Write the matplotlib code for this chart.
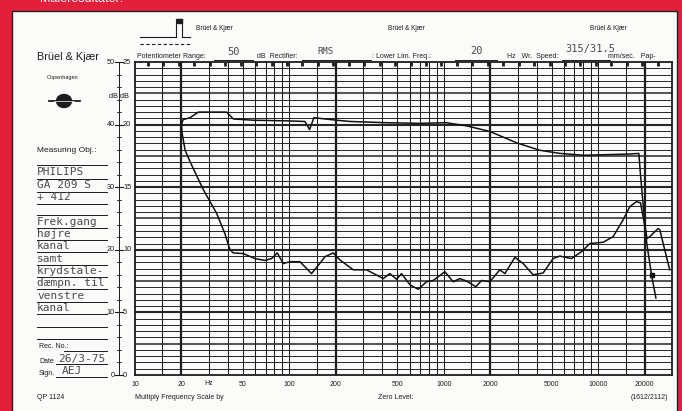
import numpy as np
import matplotlib
matplotlib.use("Agg")
import matplotlib.pyplot as plt
from matplotlib.patches import Rectangle, Ellipse
from matplotlib.lines import Line2D
from matplotlib.ticker import NullLocator

W, H = 682, 411

# upper trace: frequency response, right channel (Hz, dB on the 50 dB range)
resp_freq = [20, 20.5, 22.7, 25.7, 39.2, 43.3, 58.4, 95.9, 126, 135, 144, 202, 247,
             425, 697, 1037, 1403, 1986, 2954, 4172, 5633, 8050, 16000, 18300,
             18800, 19700, 20600, 22100, 23600]
resp_db = [40.0, 40.8, 41.1, 42.0, 42.0, 40.9, 40.7, 40.6, 40.5, 39.2, 41.1, 40.7, 40.5,
           40.3, 40.2, 40.3, 39.8, 38.9, 37.1, 35.9, 35.4, 35.1, 35.3, 35.4,
           31.7, 26.0, 21.0, 16.0, 12.3]

# lower trace: crosstalk damping to left channel
xtalk_freq = [20, 20.2, 21.1, 23.3, 27.7, 33.8, 38.2, 41.2, 43.3, 50.2, 59.8, 69.4,
              76.7, 83.4, 91.2, 100.7, 117, 139, 157, 170, 192, 212, 259, 316, 405,
              447, 494, 532, 603, 682, 773, 853, 1015, 1148, 1270, 1403, 1611, 1754,
              1986, 2303, 2483, 2883, 3262, 3785, 4393, 5097, 5633, 6712, 7786, 8809,
              10740, 12470, 14480, 16000, 17670, 18760, 20700, 21540, 24380, 25000, 29000]
xtalk_db = [40.0, 38.6, 35.9, 33.5, 29.6, 25.8, 22.6, 20.0, 19.5, 19.4, 18.6, 18.3,
            18.6, 19.5, 17.8, 18.1, 18.1, 16.2, 17.8, 18.9, 19.5, 18.4, 16.8, 16.8, 15.4,
            16.2, 15.3, 16.2, 14.4, 13.7, 14.9, 15.1, 16.5, 14.9, 15.4, 15.0, 14.1, 15.1,
            14.9, 16.8, 16.2, 18.8, 17.8, 16.0, 16.3, 18.6, 19.0, 18.6, 19.7, 21.0,
            21.2, 22.1, 24.8, 26.9, 27.7, 27.5, 21.8, 22.1, 23.4, 23.2, 16.8]

freq_ticks = [10, 20, 50, 100, 200, 500, 1000, 2000, 5000, 10000, 20000]
db_left = [0, 10, 20, 30, 40, 50]
db_right = [0, 5, 10, 15, 20, 25]

RED = "#e2203c"
INK = "#1c1c1c"
TYPE = "#4a4a4a"
MONO = "DejaVu Sans Mono"

plt.rcParams["font.family"] = ["Liberation Sans", "DejaVu Sans"]
fig = plt.figure(figsize=(W / 100, H / 100), dpi=100, facecolor=RED)


def fx(x):
    return x / W


def fy(y):
    return 1 - y / H


def ftext(x, y, s, **kw):
    kw.setdefault("color", INK)
    kw.setdefault("va", "center")
    fig.text(fx(x), fy(y), s, **kw)


def fline(x0, y0, x1, y1, **kw):
    kw.setdefault("color", INK)
    kw.setdefault("lw", 0.7)
    fig.add_artist(Line2D([fx(x0), fx(x1)], [fy(y0), fy(y1)], transform=fig.transFigure, **kw))


# paper sheet
paper = Rectangle((fx(12), fy(413)), fx(677) - fx(12), fy(11) - fy(413),
                  transform=fig.transFigure, facecolor="#fbfbf9",
                  edgecolor="#202020", lw=1.0, zorder=-5)
fig.patches.append(paper)
ftext(40, -1, "Måleresultater:", color="white", fontsize=9, ha="left")

# header
fline(140, 37, 176, 37, lw=0.8)
fline(176, 37, 176, 19, lw=0.8)
fline(176, 19, 182, 19, lw=0.8)
fline(182, 19, 182, 37, lw=0.8)
fline(182, 37, 190, 37, lw=0.8)
fig.patches.append(Rectangle((fx(176.5), fy(23)), fx(5), fy(19) - fy(23),
                             transform=fig.transFigure, color=INK))
fline(140, 44, 192, 44, lw=0.8, ls=(0, (3, 2.2)))
for bx in [214, 406, 608]:
    ftext(bx, 28, "Brüel & Kjær", fontsize=4.7, ha="center")

ftext(137, 57, "Potentiometer Range:", fontsize=5, ha="left")
fline(214, 60, 253, 60)
ftext(234, 52, "50", fontsize=7.5, ha="center", color=TYPE, family=MONO)
ftext(257, 57, "dB  Rectifier:", fontsize=5, ha="left")
fline(302, 60, 371, 60)
ftext(325, 51, "RMS", fontsize=6.5, ha="center", color=TYPE, family=MONO)
ftext(372, 57, ": Lower Lim. Freq.:", fontsize=5, ha="left")
fline(455, 60, 497, 60)
ftext(476, 51, "20", fontsize=7.5, ha="center", color=TYPE, family=MONO)
ftext(507, 57, "Hz   Wr.  Speed:", fontsize=5, ha="left")
fline(562, 60, 610, 60)
ftext(590, 49, "315/31.5", fontsize=7.5, ha="center", color=TYPE, family=MONO)
ftext(608, 57, "mm/sec.   Pap-", fontsize=5, ha="left")

# left panel
ftext(37, 57, "Brüel & Kjær", fontsize=7.8, ha="left")
ftext(63, 77, "Copenhagen", fontsize=4, ha="center")
fig.patches.append(Ellipse((fx(64), fy(101)), fx(15), fy(0) - fy(13),
                           transform=fig.transFigure, color=INK))
fline(49, 101, 80, 101, lw=1.3)
fline(54, 101, 74, 101, lw=0.5, color="white")
ftext(37, 150, "Measuring Obj.:", fontsize=6, ha="left")

typed = [(172, "PHILIPS"), (185, "GA 209 S"), (197, "+ 412"),
         (222, "Frek.gang"), (234, "højre"), (246, "kanal"), (259, "samt"),
         (271, "krydstale-"), (283, "dæmpn. til"), (296, "venstre"), (308, "kanal")]
for ty, s in typed:
    ftext(37, ty, s, fontsize=8, ha="left", color=TYPE, family=MONO)
for ry in [165, 179, 192, 204, 215, 228, 240, 252, 265, 277, 289, 302, 314, 327, 339]:
    fline(37, ry, 107, ry, lw=0.7)

ftext(39, 347, "Rec. No.:", fontsize=5, ha="left")
fline(64, 351, 107, 351)
ftext(39, 361, "Date", fontsize=5, ha="left")
ftext(58, 359, "26/3-75", fontsize=8, ha="left", color=TYPE, family=MONO)
fline(56, 364, 107, 364)
ftext(39, 373, "Sign.", fontsize=5, ha="left")
ftext(62, 371, "AEJ", fontsize=8, ha="left", color=TYPE, family=MONO)
fline(56, 377, 107, 377)

ftext(37, 397, "QP 1124", fontsize=5, ha="left")
ftext(135, 397, "Multiply Frequency Scale by", fontsize=5, ha="left")
ftext(378, 397, "Zero Level:", fontsize=5, ha="left")
ftext(668, 397, "(1612/2112)", fontsize=5, ha="right")

# recorder chart
ax = fig.add_axes([fx(135), fy(375), fx(672) - fx(135), fy(62) - fy(375)])
ax.set_zorder(2)
ax.set_facecolor("none")
ax.set_xscale("log")
ax.set_xlim(10, 30000)
ax.set_ylim(0, 50)

for dec in [10, 100, 1000, 10000]:
    for m in [1, 1.5, 2, 3, 4, 5, 6, 7, 8, 9]:
        f = dec * m
        if 10 < f < 30000:
            ax.axvline(f, color=INK, lw=1.6 if m == 2 else 0.75, zorder=1)
for d in range(1, 50):
    if d % 10 == 0:
        lw = 1.5
    elif d % 5 == 0:
        lw = 1.1
    else:
        lw = 0.7
    ax.axhline(d, color="#262626", lw=lw, zorder=1)

# timing marks along the top edge
marks = 10 ** np.arange(1.084, 4.47, 0.1)
ax.vlines(marks, 49.3, 50, color=INK, lw=2.0, zorder=2)

for s in ax.spines.values():
    s.set_linewidth(1.3)
    s.set_color(INK)

ax.plot(resp_freq, resp_db, color="#111111", lw=1.1, zorder=3)
ax.plot(resp_freq[-2], resp_db[-2], marker="s", ms=2.5, color="#111111", zorder=3)
ax.plot(xtalk_freq, xtalk_db, color="#111111", lw=1.1, zorder=3)

ax.set_xticks(freq_ticks)
ax.set_xticklabels([str(f) for f in freq_ticks], fontsize=5, color=INK)
ax.xaxis.set_minor_locator(NullLocator())
ax.set_yticks([])
ax.tick_params(axis="x", length=0, pad=4)
ax.text(30, -1.35, "Hz", fontsize=5, ha="center", va="center", color=INK)

# double dB scale on the left
fline(119, 62, 119, 375, lw=0.7)
for d in range(0, 51, 2):
    yy = 375 - d * 313 / 50
    fline(117, yy, 121, yy, lw=0.6)
for dl, dr in zip(db_left, db_right):
    yy = 375 - dl * 313 / 50
    fline(115, yy, 123, yy, lw=0.8)
    ftext(115, yy, str(dl), fontsize=5.3, ha="right")
    ftext(123, yy, str(dr), fontsize=5.3, ha="left")
ftext(119, 96, "dB dB", fontsize=5.3, ha="center")

fig.savefig("out.png", dpi=100, facecolor=RED)
